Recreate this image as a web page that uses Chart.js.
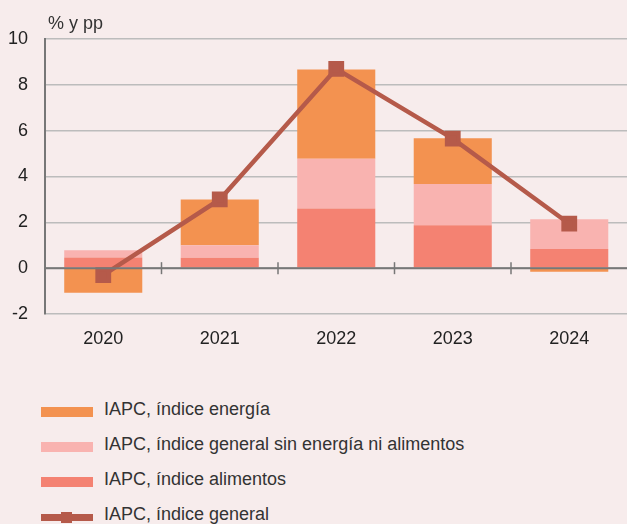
<!DOCTYPE html>
<html>
<head>
<meta charset="utf-8">
<script src="https://cdn.jsdelivr.net/npm/chart.js@4"></script>
<style>
  html, body { margin:0; padding:0; background:#f7ecec; overflow:hidden; }
  #wrap { position:relative; width:627px; height:524px; background:#f7ecec; overflow:hidden; font-family:"Liberation Sans", Arial, sans-serif; }
  #cbox { position:absolute; left:0; top:0; width:640px; height:356px; }
  #unit { position:absolute; left:48px; top:13px; font-size:18px; color:#333; }
  #legend { position:absolute; left:41px; top:400px; }
  .item { position:relative; height:35px; }
  .sw { position:absolute; left:0; width:52px; height:10px; top:7px; }
  .lab { position:absolute; left:63px; top:-1px; font-size:18px; color:#333; white-space:nowrap; }
</style>
</head>
<body>
<div id="wrap">
  <div id="cbox"><canvas id="c"></canvas></div>
  <div id="unit">% y pp</div>
  <div id="legend"></div>
</div>
<script>
const categories = ['2020', '2021', '2022', '2023', '2024'];
const energia    = [-1.07, 2.0, 3.9, 2.0, -0.16];
const subyacente = [0.31, 0.55, 2.17, 1.8, 1.29];
const alimentos  = [0.47, 0.45, 2.6, 1.87, 0.84];
const general    = [-0.3, 3.0, 8.7, 5.65, 1.94];
const yTicks     = [-2, 0, 2, 4, 6, 8, 10];

const labels = {
  energia: 'IAPC, índice energía',
  sub: 'IAPC, índice general sin energía ni alimentos',
  alim: 'IAPC, índice alimentos',
  gen: 'IAPC, índice general'
};
const colors = { energia:'#f39250', sub:'#f9b3b0', alim:'#f48272', gen:'#b55a4a' };

const catTicks = {
  id: 'catTicks',
  afterDatasetsDraw(chart) {
    const x = chart.scales.x, y = chart.scales.y, ctx = chart.ctx;
    const y0 = y.getPixelForValue(0);
    ctx.save();
    ctx.strokeStyle = '#777';
    ctx.lineWidth = 2;
    ctx.beginPath();
    ctx.moveTo(chart.chartArea.left, y0);
    ctx.lineTo(chart.chartArea.right, y0);
    ctx.stroke();
    ctx.lineWidth = 1.5;
    for (let i = 0; i < categories.length - 1; i++) {
      const xb = (x.getPixelForValue(i) + x.getPixelForValue(i + 1)) / 2;
      ctx.beginPath();
      ctx.moveTo(xb, y0 - 6);
      ctx.lineTo(xb, y0 + 6);
      ctx.stroke();
    }
    ctx.restore();
  }
};

const chart = new Chart(document.getElementById('c'), {
  type: 'bar',
  data: {
    labels: categories,
    datasets: [
      { type:'line', label: labels.gen, data: general, borderColor: colors.gen, backgroundColor: colors.gen,
        borderWidth: 4.5, pointStyle: 'rect', pointRadius: 8, pointHoverRadius: 8, order: 0, tension: 0 },
      { label: labels.alim, data: alimentos, backgroundColor: colors.alim, stack: 's', order: 1,
        categoryPercentage: 0.67, barPercentage: 1 },
      { label: labels.sub, data: subyacente, backgroundColor: colors.sub, stack: 's', order: 1,
        categoryPercentage: 0.67, barPercentage: 1 },
      { label: labels.energia, data: energia, backgroundColor: colors.energia, stack: 's', order: 1,
        categoryPercentage: 0.67, barPercentage: 1 }
    ]
  },
  options: {
    responsive: true,
    maintainAspectRatio: false,
    animation: false,
    layout: { padding: { top: 39, right: 0, left: 0, bottom: 0 } },
    plugins: { legend: { display: false }, tooltip: { enabled: false } },
    scales: {
      x: {
        stacked: true,
        grid: { display: false, drawTicks: false },
        border: { display: false },
        ticks: { color: '#222', font: { family: '"Liberation Sans", Arial, sans-serif', size: 18 }, padding: 14 },
        afterFit(s) { s.height = 42; }
      },
      y: {
        stacked: true,
        min: -2, max: 10,
        afterBuildTicks(s) { s.ticks = yTicks.map(v => ({ value: v })); },
        grid: { color: '#bcbcbc', lineWidth: 1.5, drawTicks: false },
        border: { display: true, color: '#777', width: 2 },
        ticks: { color: '#222', font: { family: '"Liberation Sans", Arial, sans-serif', size: 18 }, padding: 17 },
        afterFit(s) { s.width = 45; }
      }
    }
  },
  plugins: [catTicks]
});

// HTML legend built from datasets
const legendOrder = [3, 2, 1, 0];
const lg = document.getElementById('legend');
legendOrder.forEach(i => {
  const ds = chart.data.datasets[i];
  const it = document.createElement('div');
  it.className = 'item';
  if (ds.type === 'line') {
    it.innerHTML = '<div class="sw" style="background:' + ds.borderColor + ';height:7px;top:9px"></div>' +
      '<div style="position:absolute;left:20px;top:7px;width:11px;height:11px;background:' + ds.borderColor + '"></div>' +
      '<div class="lab">' + ds.label + '</div>';
  } else {
    it.innerHTML = '<div class="sw" style="background:' + ds.backgroundColor + '"></div><div class="lab">' + ds.label + '</div>';
  }
  lg.appendChild(it);
});
</script>
</body>
</html>
